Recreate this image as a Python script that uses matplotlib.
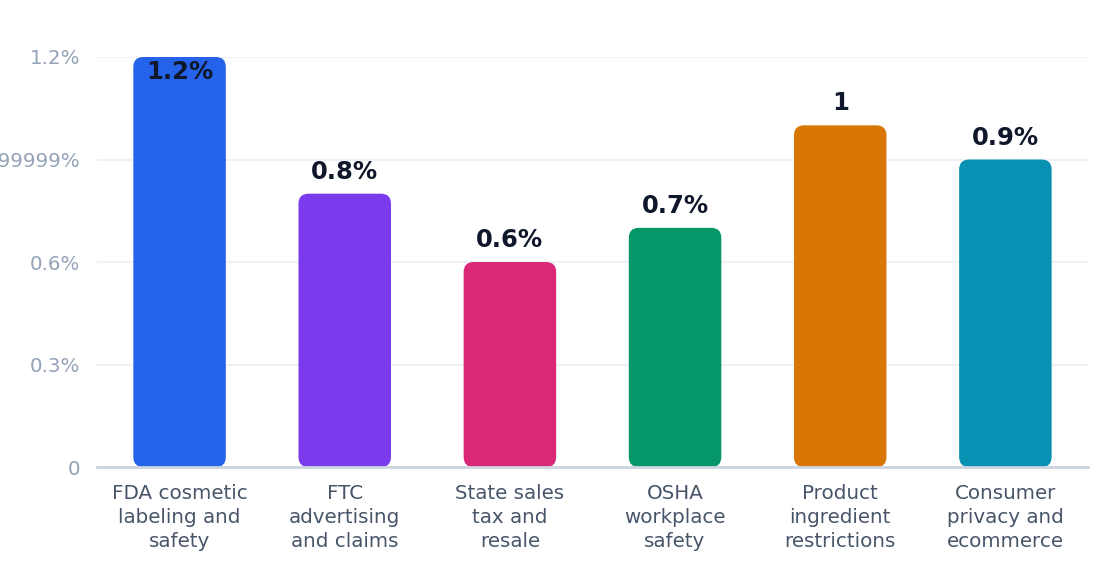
import matplotlib
matplotlib.use("Agg")
import matplotlib.pyplot as plt
from matplotlib.patches import FancyBboxPatch

categories = [
    "FDA cosmetic\nlabeling and\nsafety",
    "FTC\nadvertising\nand claims",
    "State sales\ntax and\nresale",
    "OSHA\nworkplace\nsafety",
    "Product\ningredient\nrestrictions",
    "Consumer\nprivacy and\necommerce",
]
values = [1.2, 0.8, 0.6, 0.7, 1.0, 0.9]
value_labels = ["1.2%", "0.8%", "0.6%", "0.7%", "1", "0.9%"]
colors = ["#2563eb", "#7c3aed", "#db2777", "#059669", "#d97706", "#0891b2"]
yticks = [0, 0.3, 0.6, 0.9, 1.2]
ytick_labels = ["0", "0.3%", "0.6%", "0.899999%", "1.2%"]

fig = plt.figure(figsize=(11.2, 5.84), dpi=100)
ax = fig.add_axes([0.0866, 0.2003, 0.8848, 0.7021])

x = range(len(values))
bars = ax.bar(x, values, width=0.56, color=colors)
ax.set_xlim(-0.5, len(values) - 0.5)
ax.set_ylim(0, 1.2)

# swap plain bars for rounded ones
fig.canvas.draw()
(x0, y0), (x1, y1) = ax.transData.transform([(0, 0), (1, 1)])
px_x, px_y = x1 - x0, y1 - y0
r = 10 / px_x
for b in bars:
    b.set_visible(False)
    p = FancyBboxPatch((b.get_x(), b.get_y()), b.get_width(), b.get_height(),
                       boxstyle=f"round,pad=0,rounding_size={r}",
                       mutation_aspect=px_x / px_y,
                       facecolor=b.get_facecolor(), edgecolor="none",
                       clip_on=False, zorder=3)
    ax.add_patch(p)

for i, (v, lab) in enumerate(zip(values, value_labels)):
    yy = v + 22 / px_y
    if yy > 1.2:
        yy = v - 15 / px_y
    ax.text(i, yy, lab, ha="center", va="center", fontsize=17.5,
            fontweight="bold", color="#0f172a", zorder=4)

ax.set_yticks(yticks)
ax.set_yticklabels(ytick_labels)
ax.set_xticks(list(x))
ax.set_xticklabels(categories, linespacing=1.33)
ax.tick_params(axis="y", length=0, pad=12, labelsize=14.3, labelcolor="#94a3b8")
ax.tick_params(axis="x", length=0, pad=12, labelsize=14.3, labelcolor="#475569")
ax.grid(axis="y", color="#eef2f6", linewidth=1.5, zorder=0)
ax.set_axisbelow(True)
for s in ["top", "right", "left"]:
    ax.spines[s].set_visible(False)
ax.spines["bottom"].set_color("#cbd5e1")
ax.spines["bottom"].set_linewidth(2)
ax.spines["bottom"].set_zorder(5)

fig.savefig("out.png", dpi=100)
